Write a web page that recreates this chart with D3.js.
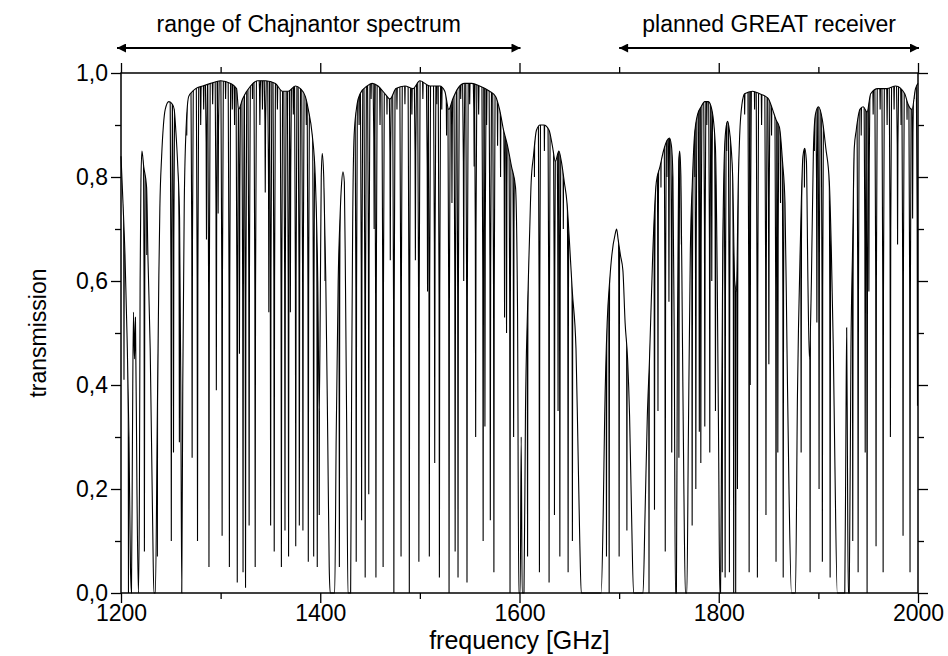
<!DOCTYPE html>
<html>
<head>
<meta charset="utf-8">
<script src="https://cdn.jsdelivr.net/npm/d3@7"></script>
<style>
  body { margin: 0; background: #fff; }
  svg text { font-family: "Liberation Sans", Arial, sans-serif; fill: #000; }
</style>
</head>
<body>
<div id="chart"></div>
<script>
// continuum of the atmospheric windows (frequency GHz, transmission)
const envelope = [
  [1200,0.84],[1202,0.75],[1204,0.65],[1206,0.5],[1208,0.3],[1209.5,0.05],[1210.5,0],
  [1211.5,0.3],[1212.5,0.54],[1213.5,0.45],[1214.5,0.53],[1216,0.2],[1217.5,0],
  [1218.5,0.2],[1219.2,0.6],[1220,0.79],[1221,0.85],[1222.8,0.82],[1225.7,0.78],
  [1227,0.65],[1229.3,0.47],[1231.8,0.13],[1233,0],[1234.5,0],
  [1236.5,0.35],[1238,0.61],[1239,0.74],[1240.8,0.84],[1242.6,0.9],[1244.4,0.93],
  [1248,0.945],[1251.6,0.94],[1253.4,0.93],[1255,0.89],[1257,0.82],[1258.8,0.72],
  [1260,0.4],[1261,0],[1262,0.4],[1263.5,0.75],[1265.5,0.9],[1268,0.955],[1272,0.965],
  [1275,0.97],[1282,0.975],[1290,0.98],[1300,0.985],[1310,0.98],[1316,0.97],[1318,0.93],
  [1322,0.95],[1330,0.975],[1337,0.985],[1345,0.985],[1355,0.98],[1362,0.965],
  [1368,0.965],[1375,0.975],[1380,0.97],[1385,0.955],[1388,0.93],[1392,0.88],
  [1395,0.8],[1397.5,0.6],[1399,0.35],[1400,0.55],[1401,0.8],[1402,0.845],[1403.5,0.8],
  [1405.5,0.61],[1407.5,0.3],[1409,0.05],[1410,0],[1414.5,0],[1416,0.3],[1418,0.6],
  [1420,0.73],[1421.5,0.79],[1422.8,0.81],[1424.2,0.79],[1425.3,0.6],[1426.5,0.33],
  [1427.8,0],[1430.5,0],[1431.5,0.4],[1432.5,0.7],[1434,0.88],[1437,0.94],[1440,0.96],
  [1447,0.975],[1452,0.98],[1458,0.975],[1465,0.96],[1470,0.95],[1476,0.97],
  [1485,0.975],[1493,0.97],[1500,0.985],[1510,0.975],[1520,0.975],[1525,0.965],
  [1529,0.93],[1533,0.95],[1538,0.97],[1545,0.98],[1552,0.98],[1560,0.975],
  [1570,0.965],[1576,0.955],[1580,0.93],[1584,0.89],[1588,0.86],[1592,0.82],
  [1596,0.78],[1598,0.55],[1599.3,0],[1600.7,0],[1601.7,0.3],[1602.7,0],[1604.5,0],
  [1606,0.35],[1608,0.54],[1610,0.68],[1611.7,0.79],[1614,0.84],[1617,0.89],
  [1620.7,0.9],[1624.3,0.9],[1629.7,0.89],[1633,0.86],[1636,0.83],[1639.5,0.85],
  [1642,0.83],[1645,0.79],[1647.7,0.75],[1650,0.68],[1653,0.58],[1656.7,0.47],
  [1658.5,0.3],[1660.5,0.1],[1662,0],[1682,0],[1684,0.15],[1685.5,0.34],[1688,0.52],
  [1690.5,0.6],[1692.7,0.65],[1696,0.69],[1697.5,0.7],[1699,0.68],[1701.3,0.65],
  [1703.8,0.62],[1706,0.52],[1708.5,0.45],[1710.5,0.34],[1712.5,0.15],[1714.5,0],
  [1724,0],[1726,0.15],[1728.3,0.34],[1730.5,0.45],[1733.7,0.65],[1737.3,0.79],
  [1741,0.82],[1744.5,0.85],[1748,0.87],[1750.5,0.875],[1752.5,0.86],[1754,0.8],
  [1755.3,0.5],[1756.5,0],[1757.5,0],[1758.5,0.5],[1759.8,0.83],[1760.8,0.85],
  [1762,0.8],[1763.5,0.5],[1765,0.2],[1766.5,0],[1768,0],[1769.5,0.3],[1771.5,0.66],
  [1773.5,0.79],[1775.5,0.876],[1778.7,0.92],[1782.3,0.935],[1786,0.945],
  [1789.5,0.945],[1793,0.93],[1796.7,0.855],[1798.5,0.6],[1800,0.25],[1801,0],
  [1801.8,0],[1803,0.35],[1804,0.65],[1805.3,0.82],[1807,0.89],[1808.9,0.907],
  [1810.7,0.89],[1812.5,0.855],[1814,0.8],[1816,0.6],[1817.8,0.58],[1819.5,0.78],
  [1821,0.88],[1823.3,0.94],[1826,0.96],[1834,0.965],[1841,0.96],[1847,0.955],
  [1850,0.95],[1854,0.93],[1857.5,0.91],[1861,0.895],[1864,0.83],[1866.5,0.75],
  [1868.5,0.47],[1870.5,0.2],[1873,0],[1877,0],[1879,0.38],[1882,0.68],[1884.5,0.84],
  [1886.3,0.855],[1888,0.83],[1889.5,0.6],[1891,0.45],[1893,0.6],[1895,0.85],
  [1897,0.92],[1900,0.935],[1904,0.91],[1907.5,0.855],[1911,0.79],[1913,0.66],
  [1915,0.47],[1916.5,0.26],[1919,0],[1926.5,0],[1927.6,0.3],[1928.4,0.51],
  [1929.2,0.25],[1930,0],[1931,0],[1932.7,0.47],[1934.5,0.68],[1936,0.855],
  [1938,0.89],[1941.7,0.93],[1945,0.935],[1948.9,0.925],[1952.5,0.96],[1959.7,0.97],
  [1968.7,0.97],[1977.7,0.975],[1986.7,0.96],[1990,0.94],[1994,0.93],[1997.5,0.97],
  [2000,0.98]
];

// absorption lines (centre GHz, minimum transmission)
const lines = [
  [1203,0.41],[1207.5,0],[1223.5,0.08],[1225.9,0.65],[1236.5,0.07],[1250.5,0.1],
  [1252.7,0.27],[1258.6,0.29],[1266,0.88],[1271.4,0.26],[1276.8,0.1],[1280,0.9],
  [1283,0.93],[1285.8,0.68],[1288.3,0.05],[1292,0.94],[1295.7,0.39],[1297.5,0.73],
  [1301.5,0.11],[1305,0.95],[1308.8,0.05],[1311.7,0.93],[1314,0.9],[1316.7,0.02],
  [1318.9,0.46],[1322.5,0.04],[1325,0.01],[1328.6,0.13],[1332,0.95],[1334.7,0.05],
  [1339.4,0.9],[1342,0.93],[1344.8,0.77],[1348.4,0.54],[1350.2,0.13],[1353.8,0.08],
  [1357,0.93],[1361,0.05],[1364.6,0.12],[1368.2,0.07],[1370,0.54],[1373,0.92],
  [1375.4,0.09],[1379,0.13],[1382.6,0.12],[1386,0.9],[1388,0.06],[1393.4,0.07],
  [1397,0.05],[1399,0.15],[1404.8,0.6],[1419.2,0.05],[1436.1,0.06],[1439,0.9],
  [1441.5,0.14],[1445.1,0.03],[1448.7,0.19],[1451,0.95],[1454.1,0.7],[1455.9,0.03],
  [1460,0.9],[1463.1,0.05],[1467,0.92],[1470.3,0.64],[1473.9,0],[1477,0.93],
  [1481.1,0.07],[1485,0.94],[1489.4,0],[1492,0.92],[1495.5,0.64],[1499,0.06],
  [1503,0.95],[1507.7,0.58],[1509.5,0.07],[1514.9,0.25],[1517,0.94],[1519.6,0.03],
  [1522,0.93],[1526.8,0.88],[1529.3,0],[1532.2,0.75],[1535.4,0.08],[1538.3,0.03],
  [1541,0.95],[1544,0.6],[1547.3,0.02],[1550,0.94],[1554.5,0.82],[1556,0.3],
  [1559,0.92],[1563.5,0.1],[1565.3,0.32],[1567,0.9],[1570.7,0.14],[1574.3,0.04],
  [1578,0.86],[1581,0.8],[1585,0.53],[1587,0.5],[1590.5,0],[1594.1,0.3],
  [1608.1,0.07],[1615,0.8],[1620,0.04],[1625,0.85],[1629.7,0.02],[1635.1,0.15],
  [1638.7,0.35],[1640.5,0.07],[1644,0.7],[1648.8,0.04],[1653.1,0.1],[1687.3,0.07],
  [1690,0],[1700,0.07],[1707.8,0.12],[1730,0],[1735.5,0.16],[1739,0.35],
  [1742,0.78],[1746.3,0.08],[1748,0.8],[1750,0.56],[1752.8,0.27],[1760,0.26],
  [1762.5,0.67],[1773.3,0.13],[1776,0.8],[1777,0.2],[1780.5,0.31],[1782,0.25],
  [1786,0.32],[1788,0.9],[1791,0.27],[1793,0.6],[1796.7,0.35],[1803.5,0.04],
  [1806.4,0.03],[1808,0.85],[1810.7,0.04],[1815,0],[1817,0],[1818.8,0.2],
  [1826,0.92],[1830.5,0.04],[1831.6,0.4],[1836,0.93],[1838.8,0.03],[1843,0.9],
  [1847.4,0.15],[1850.3,0.44],[1853,0.88],[1857.5,0.06],[1859.3,0.27],[1862,0.75],
  [1864.7,0.03],[1882.7,0.27],[1886,0.78],[1891.7,0.04],[1896,0.85],[1898.5,0.52],
  [1900.7,0.2],[1904,0.06],[1909,0.87],[1911.8,0.03],[1934.5,0.1],[1939.9,0.04],
  [1943,0.88],[1947,0.27],[1948.9,0],[1950.7,0.58],[1955,0.92],[1957.9,0.09],
  [1962,0.93],[1965,0.04],[1969,0.9],[1972.3,0.3],[1976,0.93],[1979.5,0.67],
  [1983,0.9],[1985,0.11],[1989,0.91],[1992,0.04],[1994.6,0.72],[1996,0.95],
  [1999.5,0.36]
];

const xMajor = [1200, 1400, 1600, 1800, 2000];
const xMinor = [1300, 1500, 1700, 1900];
const yMajor = [0, 0.2, 0.4, 0.6, 0.8, 1.0];
const yMinor = [0.1, 0.3, 0.5, 0.7, 0.9];
const ranges = [[1200, 1600], [1700, 2000]];
const rangeLabels = ["range of Chajnantor spectrum", "planned GREAT receiver"];

(function () {
  const W = 948, H = 656;
  const pL = 121, pR = 918, pT = 73, pB = 593;
  const fontSize = 23;

  const svg = d3.select("#chart").append("svg")
    .attr("width", W)
    .attr("height", H);

  const x = d3.scaleLinear().domain([1200, 2000]).range([pL, pR]);
  const y = d3.scaleLinear().domain([0, 1]).range([pB, pT]);

  const fmt = d => d3.format(".1f")(d).replace(".", ",");

  // axes: major + minor ticks on all four sides
  function addAxis(axisFn, scale, values, size, transform, labels, pad) {
    const g = svg.append("g")
      .attr("transform", transform)
      .call(axisFn(scale)
        .tickValues(values)
        .tickSize(size)
        .tickPadding(pad || 4)
        .tickFormat(labels || (() => "")));
    g.select(".domain").remove();
    g.selectAll(".tick line").attr("stroke", "#000").attr("stroke-width", 1.3);
    g.selectAll("text").style("font-size", fontSize + "px");
    return g;
  }

  addAxis(d3.axisBottom, x, xMajor, 10, `translate(0,${pB})`, d => d, 2);
  addAxis(d3.axisBottom, x, xMinor, 6, `translate(0,${pB})`);
  addAxis(d3.axisTop, x, xMajor, 10, `translate(0,${pT})`);
  addAxis(d3.axisTop, x, xMinor, 6, `translate(0,${pT})`);
  addAxis(d3.axisLeft, y, yMajor, 10, `translate(${pL},0)`, fmt, 3);
  addAxis(d3.axisLeft, y, yMinor, 6, `translate(${pL},0)`);
  addAxis(d3.axisRight, y, yMajor, 10, `translate(${pR},0)`);
  addAxis(d3.axisRight, y, yMinor, 6, `translate(${pR},0)`);

  // clip region: everything below the continuum
  svg.append("clipPath")
    .attr("id", "under")
    .append("path")
    .attr("d", d3.area()
      .x(d => x(d[0]))
      .y0(pB + 2)
      .y1(d => y(d[1]))
      .curve(d3.curveMonotoneX)(envelope));

  const plot = svg.append("g");

  // continuum
  plot.append("path")
    .attr("d", d3.line()
      .x(d => x(d[0]))
      .y(d => y(d[1]))
      .curve(d3.curveMonotoneX)(envelope))
    .attr("fill", "none")
    .attr("stroke", "#000")
    .attr("stroke-width", 1.1);

  // absorption lines cut down from the continuum
  const lineShape = d3.line().x(d => x(d[0])).y(d => y(d[1]));
  plot.append("g")
    .attr("clip-path", "url(#under)")
    .selectAll("path")
    .data(lines)
    .join("path")
    .attr("d", ([f, m]) => {
      const mid = m + 0.55 * (1.02 - m);
      return lineShape([[f - 1.3, 1.02], [f - 0.35, mid], [f, m], [f + 0.35, mid], [f + 1.3, 1.02]]);
    })
    .attr("fill", "none")
    .attr("stroke", "#000")
    .attr("stroke-width", 1.1);

  // frame
  svg.append("rect")
    .attr("x", pL)
    .attr("y", pT)
    .attr("width", pR - pL)
    .attr("height", pB - pT)
    .attr("fill", "none")
    .attr("stroke", "#000")
    .attr("stroke-width", 1.5);

  // range arrows
  const defs = svg.append("defs");
  ["start", "end"].forEach(k => {
    defs.append("marker")
      .attr("id", "arrow-" + k)
      .attr("viewBox", "0 0 10 10")
      .attr("refX", k === "end" ? 10 : 0)
      .attr("refY", 5)
      .attr("markerWidth", 7)
      .attr("markerHeight", 5)
      .attr("markerUnits", "strokeWidth")
      .attr("orient", "auto")
      .append("path")
      .attr("d", k === "end" ? "M0,0 L10,5 L0,10 Z" : "M10,0 L0,5 L10,10 Z")
      .attr("fill", "#000");
  });

  const arrowY = 48;
  const labelShift = [-10, 0];
  ranges.forEach((r, i) => {
    const x0 = x(r[0]) - (i === 0 ? 4 : 0);
    const x1 = x(r[1]) + 1;
    svg.append("line")
      .attr("x1", x0).attr("x2", x1)
      .attr("y1", arrowY).attr("y2", arrowY)
      .attr("stroke", "#000")
      .attr("stroke-width", 1.8)
      .attr("marker-start", "url(#arrow-start)")
      .attr("marker-end", "url(#arrow-end)");
    svg.append("text")
      .attr("x", (x0 + x1) / 2 + labelShift[i])
      .attr("y", 32)
      .attr("text-anchor", "middle")
      .style("font-size", fontSize + "px")
      .text(rangeLabels[i]);
  });

  // axis titles
  svg.append("text")
    .attr("x", (pL + pR) / 2)
    .attr("y", 649)
    .attr("text-anchor", "middle")
    .style("font-size", "25px")
    .text("frequency [GHz]");

  svg.append("text")
    .attr("transform", `translate(46,${(pT + pB) / 2}) rotate(-90)`)
    .attr("text-anchor", "middle")
    .style("font-size", fontSize + "px")
    .text("transmission");
})();
</script>
</body>
</html>
